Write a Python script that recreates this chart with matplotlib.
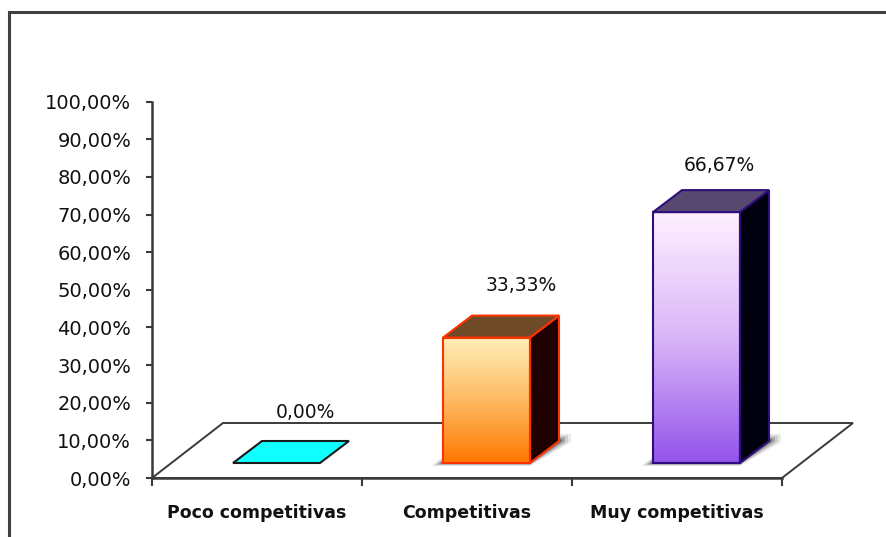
import matplotlib
matplotlib.use("Agg")
import matplotlib.pyplot as plt
import numpy as np
from matplotlib.patches import Polygon, Rectangle
from matplotlib.colors import LinearSegmentedColormap
from matplotlib.ticker import FuncFormatter, FixedLocator

# ---- data ----
categories = ["Poco competitivas", "Competitivas", "Muy competitivas"]
values = [0.0, 33.33, 66.67]
value_labels = ["0,00%", "33,33%", "66,67%"]
y_ticks = [0, 10, 20, 30, 40, 50, 60, 70, 80, 90, 100]

# ---- styling per bar ----
front_grads = [
    ["#00FFFF", "#00FFFF"],
    ["#FFEFB8", "#FDBA62", "#FF7800"],
    ["#FFF0FF", "#D9B6F8", "#9353EA"],
]
edge_cols = ["#1A1A1A", "#FF3300", "#2E0E7A"]
top_cols = ["#10FFFF", "#6E4A28", "#574870"]
side_cols = ["#000000", "#1E0000", "#00000F"]

W, H, DPI = 887, 537, 100
fig = plt.figure(figsize=(W / DPI, H / DPI), dpi=DPI)
fig.patch.set_facecolor("white")

# front plane of the plot box, in pixels
left_px, right_px, bottom_px, top_px = 152, 782, 478, 101.7
ax = fig.add_axes([left_px / W, 1 - bottom_px / H,
                   (right_px - left_px) / W, (bottom_px - top_px) / H])
ax.set_facecolor("none")

xmin, xmax, ymin, ymax = -0.5, 2.5, 0, 100
px_per_x = (right_px - left_px) / (xmax - xmin)
px_per_y = (bottom_px - top_px) / (ymax - ymin)

# oblique depth of the floor and of the bars (pixels -> data units)
DX, DY = 71 / px_per_x, 55 / px_per_y
OX0, OY0 = 19.5 / px_per_x, 15 / px_per_y      # bar front plane
BDX, BDY = 29 / px_per_x, 22 / px_per_y        # bar depth
HW = 87 / 2 / px_per_x                         # half bar width

dark = "#3A3A3A"

# floor
floor = Polygon([(xmin, 0), (xmax, 0), (xmax + DX, DY), (xmin + DX, DY)],
                closed=True, facecolor="white", edgecolor=dark, lw=1.4,
                zorder=1, clip_on=False)
ax.add_patch(floor)

label_dx = [0.23, 0.26, 0.20]
label_dy = [14, 15, 11]

for i, (v, lab) in enumerate(zip(values, value_labels)):
    x0 = i - HW + OX0
    x1 = i + HW + OX0
    y0 = OY0
    y1 = v + OY0
    if v > 0:
        # soft shadow cast on the floor around the base
        for k, a in [(12, 0.08), (9, 0.12), (6, 0.2), (3, 0.35)]:
            ex, ey = k / px_per_x, k / px_per_y
            sh = Polygon([(x0 - ex, y0 - ey * 0.25), (x1, y0 - ey * 0.25),
                          (x1 + BDX + ex, y0 + BDY - ey * 0.1),
                          (x1 + BDX + ex, y0 + BDY + ey * 0.6),
                          (x0 + BDX, y0 + BDY + ey * 0.6)],
                         closed=True, facecolor="black", edgecolor="none",
                         alpha=a, zorder=2, clip_on=False)
            ax.add_patch(sh)
        # front face with vertical gradient
        cmap = LinearSegmentedColormap.from_list(f"g{i}", front_grads[i])
        grad = np.linspace(1, 0, 256).reshape(-1, 1)
        front = Polygon([(x0, y0), (x1, y0), (x1, y1), (x0, y1)], closed=True,
                        facecolor="none", edgecolor=edge_cols[i], lw=1.5,
                        zorder=4, clip_on=False)
        im = ax.imshow(grad, cmap=cmap, aspect="auto", vmin=0, vmax=1,
                       extent=(x0, x1, y0, y1), origin="lower", zorder=3)
        ax.add_patch(front)
        im.set_clip_path(front)
        side = Polygon([(x1, y0), (x1 + BDX, y0 + BDY), (x1 + BDX, y1 + BDY),
                        (x1, y1)], closed=True, facecolor=side_cols[i],
                       edgecolor=edge_cols[i], lw=1.5, zorder=3, clip_on=False)
        ax.add_patch(side)
    top = Polygon([(x0, y1), (x1, y1), (x1 + BDX, y1 + BDY), (x0 + BDX, y1 + BDY)],
                  closed=True, facecolor=top_cols[i], edgecolor=edge_cols[i],
                  lw=1.5, zorder=4, clip_on=False)
    ax.add_patch(top)
    ax.annotate(lab, xy=(i + label_dx[i], y1 + BDY), xytext=(0, label_dy[i]),
                textcoords="offset points", ha="center", va="bottom",
                fontsize=13.5, color="#111111", zorder=6, annotation_clip=False)

ax.set_xlim(xmin, xmax)
ax.set_ylim(ymin, ymax)

# axes styling
for s in ["top", "right"]:
    ax.spines[s].set_visible(False)
for s in ["left", "bottom"]:
    ax.spines[s].set_color(dark)
    ax.spines[s].set_linewidth(1.8)
    ax.spines[s].set_zorder(5)

ax.yaxis.set_major_locator(FixedLocator(y_ticks))
ax.yaxis.set_major_formatter(FuncFormatter(
    lambda v, p: f"{v:.2f}".replace(".", ",") + "%"))
ax.tick_params(axis="y", direction="out", length=4, width=1.5, color=dark,
               labelsize=14, labelcolor="#111111", pad=11)

ax.set_xticks(range(len(categories)))
ax.set_xticklabels(categories, fontsize=12.5, fontweight="bold", color="#111111")
ax.set_xticks([xmin + k for k in range(len(categories) + 1)], minor=True)
ax.tick_params(axis="x", which="major", length=0, pad=19)
ax.tick_params(axis="x", which="minor", direction="out", length=6, width=1.5,
               color=dark)

# chart frame
fig.patches.append(Rectangle((9 / W, -0.2), 1.2, 1 - 12 / H + 0.2,
                             transform=fig.transFigure, fill=False,
                             edgecolor="#404040", lw=2.2))

fig.savefig("out.png", dpi=DPI, facecolor="white")
